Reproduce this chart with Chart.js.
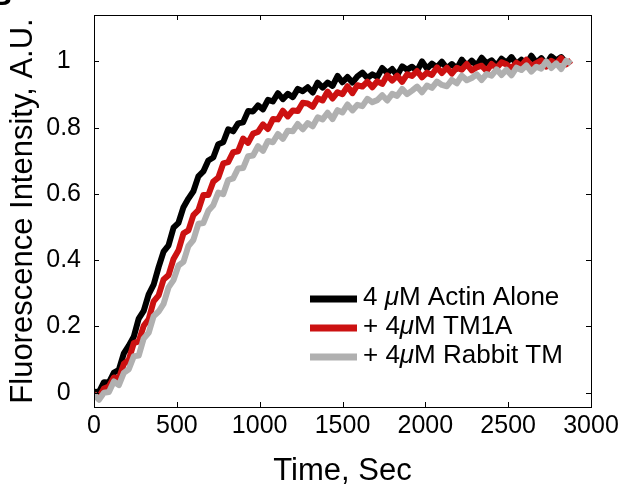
<!DOCTYPE html>
<html>
<head>
<meta charset="utf-8">
<script src="https://cdn.jsdelivr.net/npm/chart.js@4"></script>
<style>
  html, body { margin: 0; padding: 0; background: #fff; }
  canvas { display: block; }
</style>
</head>
<body>
<canvas id="fluorChart" width="624" height="487"></canvas>
<script>
// ---- data ----
const times = [0, 30, 60, 90, 120, 150, 180, 210, 240, 270, 300, 330, 360, 390, 420, 450, 480, 510, 540, 570,
  600, 630, 660, 690, 720, 750, 780, 810, 840, 870, 900, 930, 960, 990, 1020, 1050, 1080, 1110, 1140, 1170,
  1200, 1230, 1260, 1290, 1320, 1350, 1380, 1410, 1440, 1470, 1500, 1530, 1560, 1590, 1620, 1650, 1680, 1710, 1740, 1770,
  1800, 1830, 1860, 1890, 1920, 1950, 1980, 2010, 2040, 2070, 2100, 2130, 2160, 2190, 2220, 2250, 2280, 2310, 2340, 2370,
  2400, 2430, 2460, 2490, 2520, 2550, 2580, 2610, 2640, 2670, 2700, 2730, 2760, 2790, 2820, 2850, 2880];

const actinAlone = [0.003, 0.002, 0.032, 0.031, 0.061, 0.069, 0.119, 0.142, 0.169, 0.224, 0.247, 0.297, 0.326, 0.379, 0.426, 0.445, 0.498, 0.513, 0.560, 0.586,
  0.608, 0.653, 0.668, 0.701, 0.710, 0.750, 0.756, 0.795, 0.789, 0.813, 0.816, 0.850, 0.849, 0.867, 0.855, 0.884, 0.879, 0.904, 0.886, 0.902,
  0.892, 0.917, 0.910, 0.922, 0.906, 0.936, 0.921, 0.936, 0.926, 0.956, 0.937, 0.953, 0.936, 0.955, 0.966, 0.950, 0.961, 0.953, 0.980, 0.965,
  0.977, 0.958, 0.985, 0.975, 0.984, 0.971, 1.000, 0.978, 0.993, 0.982, 0.999, 0.979, 0.992, 0.978, 1.005, 0.987, 1.002, 0.987, 1.011, 0.994,
  1.003, 0.987, 1.008, 0.996, 1.013, 0.992, 1.005, 0.991, 1.017, 0.996, 1.010, 0.991, 1.015, 1.003, 1.013, 0.996, null];

const tm1a = [-0.005, -0.014, 0.013, 0.019, 0.046, 0.043, 0.087, 0.099, 0.150, 0.155, 0.202, 0.222, 0.276, 0.294, 0.342, 0.355, 0.404, 0.430, 0.481, 0.490,
  0.536, 0.551, 0.597, 0.597, 0.637, 0.649, 0.692, 0.696, 0.726, 0.729, 0.767, 0.754, 0.782, 0.787, 0.810, 0.796, 0.826, 0.825, 0.851, 0.834,
  0.852, 0.850, 0.875, 0.873, 0.863, 0.889, 0.882, 0.909, 0.888, 0.907, 0.901, 0.925, 0.904, 0.928, 0.924, 0.939, 0.922, 0.940, 0.932, 0.958,
  0.942, 0.957, 0.938, 0.961, 0.956, 0.971, 0.952, 0.966, 0.959, 0.982, 0.965, 0.981, 0.963, 0.981, 0.975, 0.992, 0.973, 0.982, 0.987, 0.971,
  0.992, 0.980, 0.997, 0.991, 0.979, 0.996, 0.987, 1.005, 0.986, 0.995, 1.003, 0.984, 1.002, 0.993, 1.010, 0.991, 1.003];

const rabbitTm = [-0.005, -0.021, 0.000, 0.002, 0.034, 0.023, 0.060, 0.071, 0.110, 0.112, 0.164, 0.181, 0.231, 0.245, 0.268, 0.318, 0.340, 0.384, 0.395, 0.443,
  0.461, 0.510, 0.512, 0.549, 0.566, 0.604, 0.599, 0.642, 0.647, 0.677, 0.678, 0.714, 0.716, 0.744, 0.730, 0.760, 0.756, 0.781, 0.766, 0.791,
  0.789, 0.811, 0.795, 0.814, 0.804, 0.831, 0.825, 0.845, 0.826, 0.853, 0.846, 0.870, 0.852, 0.869, 0.865, 0.887, 0.877, 0.883, 0.898, 0.882,
  0.902, 0.896, 0.917, 0.901, 0.912, 0.924, 0.907, 0.927, 0.920, 0.939, 0.929, 0.925, 0.944, 0.934, 0.957, 0.943, 0.950, 0.961, 0.944, 0.962,
  0.957, 0.976, 0.959, 0.975, 0.958, 0.981, 0.974, 0.988, 0.969, 0.984, 0.978, 1.000, 0.980, 0.994, 0.977, 1.002, 0.993];

const seriesLabels = ['4 μM Actin Alone', '+ 4μM TM1A', '+ 4μM Rabbit TM'];
const seriesColors = ['#000000', '#cc1111', '#b0b0b0'];
const xTicks = [0, 500, 1000, 1500, 2000, 2500, 3000];
const yTicks = [0, 0.2, 0.4, 0.6, 0.8, 1];
const yTickLabels = ['0', '0.2', '0.4', '0.6', '0.8', '1'];
const panelLetter = 'B';

const FONT = '"Liberation Sans", Arial, Helvetica, sans-serif';

// matlab-style box with inward ticks on all four sides
const boxPlugin = {
  id: 'box',
  afterDatasetsDraw(chart) {
    const { ctx, chartArea: a, scales } = chart;
    const len = 5;
    ctx.save();
    ctx.strokeStyle = '#000';
    ctx.lineWidth = 1;
    ctx.strokeRect(Math.round(a.left) + 0.5, Math.round(a.top) + 0.5,
      Math.round(a.right - a.left), Math.round(a.bottom - a.top));
    ctx.beginPath();
    xTicks.forEach(v => {
      const px = Math.round(scales.x.getPixelForValue(v)) + 0.5;
      ctx.moveTo(px, a.bottom); ctx.lineTo(px, a.bottom - len);
      ctx.moveTo(px, a.top); ctx.lineTo(px, a.top + len);
    });
    yTicks.forEach(v => {
      const py = Math.round(scales.y.getPixelForValue(v)) + 0.5;
      ctx.moveTo(a.left, py); ctx.lineTo(a.left + len, py);
      ctx.moveTo(a.right, py); ctx.lineTo(a.right - len, py);
    });
    ctx.stroke();

    // panel letter, mostly cut off by the top edge like in the figure
    ctx.fillStyle = '#000';
    ctx.font = 'bold 30px ' + FONT;
    ctx.textAlign = 'right';
    ctx.textBaseline = 'alphabetic';
    ctx.fillText(panelLetter, 12, 5);
    ctx.restore();
  }
};

// legend inside the plot, no frame, italic mu
const legendPlugin = {
  id: 'inLegend',
  afterDraw(chart, args, opts) {
    const { ctx } = chart;
    ctx.save();
    chart.data.datasets.forEach((ds, i) => {
      const y = opts.y + i * opts.gap;
      ctx.strokeStyle = ds.borderColor;
      ctx.lineWidth = 7;
      ctx.beginPath();
      ctx.moveTo(opts.x, y);
      ctx.lineTo(opts.x + opts.lineLen, y);
      ctx.stroke();

      ctx.fillStyle = '#000';
      ctx.textBaseline = 'middle';
      let tx = opts.x + opts.lineLen + 6;
      const parts = ds.label.split('μ');
      parts.forEach((p, k) => {
        ctx.font = '26px ' + FONT;
        ctx.fillText(p, tx, y - 1);
        tx += ctx.measureText(p).width;
        if (k < parts.length - 1) {
          ctx.font = 'italic 26px ' + FONT;
          ctx.fillText('μ', tx, y - 1);
          tx += ctx.measureText('μ').width;
        }
      });
    });
    ctx.restore();
  }
};

const datasets = [actinAlone, tm1a, rabbitTm].map((vals, i) => ({
  label: seriesLabels[i],
  data: vals.map((v, k) => ({ x: times[k], y: v })),
  borderColor: seriesColors[i],
  backgroundColor: seriesColors[i],
  borderWidth: 6,
  borderJoinStyle: 'round',
  pointRadius: 0,
  tension: 0,
  spanGaps: false,
  order: 3 - i
}));

new Chart(document.getElementById('fluorChart'), {
  type: 'line',
  data: { datasets },
  options: {
    responsive: false,
    animation: false,
    devicePixelRatio: 1,
    layout: { padding: { top: 15, right: 33, bottom: 0, left: 0 } },
    plugins: {
      legend: { display: false },
      tooltip: { enabled: false },
      inLegend: { x: 310, y: 299, gap: 29, lineLen: 47 }
    },
    scales: {
      x: {
        type: 'linear',
        min: 0,
        max: 3000,
        afterBuildTicks: s => { s.ticks = xTicks.map(v => ({ value: v })); },
        afterFit: s => { s.height = 80; s.paddingLeft = 0; s.paddingRight = 0; },
        grid: { display: false, drawTicks: false },
        border: { display: false },
        ticks: {
          font: { size: 25, family: FONT },
          color: '#000',
          padding: 4,
          maxRotation: 0,
          autoSkip: false,
          callback: (v, i) => String(xTicks[i])
        },
        title: {
          display: true,
          text: 'Time, Sec',
          color: '#000',
          font: { size: 31, family: FONT, lineHeight: 1 },
          padding: 0
        }
      },
      y: {
        min: -0.043,
        max: 1.14,
        afterBuildTicks: s => { s.ticks = yTicks.map(v => ({ value: v })); },
        afterFit: s => { s.width = 94; s.paddingTop = 0; s.paddingBottom = 0; },
        grid: { display: false, drawTicks: false },
        border: { display: false },
        ticks: {
          font: { size: 25, family: FONT },
          color: '#000',
          padding: 13,
          crossAlign: 'center',
          callback: (v, i) => yTickLabels[i]
        },
        title: {
          display: true,
          text: 'Fluorescence Intensity, A.U.',
          color: '#000',
          font: { size: 31, family: FONT, lineHeight: 1 },
          padding: { top: 8, bottom: 0 }
        }
      }
    }
  },
  plugins: [boxPlugin, legendPlugin]
});
</script>
</body>
</html>
